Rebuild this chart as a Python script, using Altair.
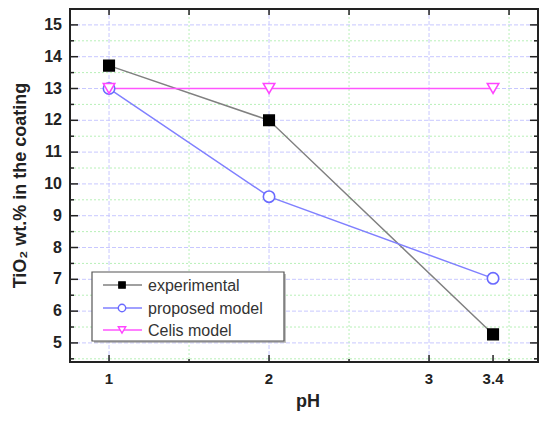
import altair as alt
import pandas as pd

# ---- data ----
ph = [1, 2, 3.4]
experimental = [13.72, 12.0, 5.27]
proposed = [13.0, 9.6, 7.03]
celis = [13.0, 13.0, 13.0]
series_names = ["experimental", "proposed model", "Celis model"]

x_labels = [1, 2, 3, 3.4]
x_label_text = ["1", "2", "3", "3.4"]
y_major_ticks = [5, 6, 7, 8, 9, 10, 11, 12, 13, 14, 15]
y_minor_ticks = [4.5, 5.5, 6.5, 7.5, 8.5, 9.5, 10.5, 11.5, 12.5, 13.5, 14.5, 15.5]
x_grid_major = [1, 2, 3]
x_grid_minor = [1.5, 2.5, 3.5]
x_top_ticks = [1, 1.5, 2, 2.5, 3, 3.5]
x_bottom_major = [1, 2, 3, 3.4]
x_bottom_minor = [1.5, 2.5, 3.5]
x_title = "pH"
y_title = "TiO₂ wt.% in the coating"

W, H = 468, 353
FONT = "Liberation Sans"
TXT = "#222222"

xs = alt.Scale(domain=[0.756, 3.681], nice=False, zero=False)
ys = alt.Scale(domain=[4.4, 15.5], nice=False, zero=False)

GRID_BLUE = "#c8c8ff"
GRID_GREEN = "#b8f0b8"


def hrule(vals, color, dash, width=1):
    return alt.Chart(pd.DataFrame({"v": vals})).mark_rule(
        color=color, strokeDash=dash, strokeWidth=width
    ).encode(y=alt.Y("v:Q", scale=ys, axis=None), x=alt.value(0), x2=alt.value(W))


def vrule(vals, color, dash, width=1):
    return alt.Chart(pd.DataFrame({"v": vals})).mark_rule(
        color=color, strokeDash=dash, strokeWidth=width
    ).encode(x=alt.X("v:Q", scale=xs, axis=None), y=alt.value(0), y2=alt.value(H))


def ytick(vals, x0, x1):
    return alt.Chart(pd.DataFrame({"v": vals})).mark_rule(color=TXT, strokeWidth=1.5).encode(
        y=alt.Y("v:Q", scale=ys, axis=None), x=alt.value(x0), x2=alt.value(x1))


def xtick(vals, y0, y1):
    return alt.Chart(pd.DataFrame({"v": vals})).mark_rule(color=TXT, strokeWidth=1.5).encode(
        x=alt.X("v:Q", scale=xs, axis=None), y=alt.value(y0), y2=alt.value(y1))


grids = [
    hrule(y_minor_ticks, GRID_GREEN, [2, 2]),
    hrule(y_major_ticks, GRID_BLUE, [4, 2]),
    vrule(x_grid_minor, GRID_GREEN, [2, 2]),
    vrule(x_grid_major, GRID_BLUE, [4, 2]),
]

ticks = [
    ytick(y_major_ticks, 0, 8), ytick(y_minor_ticks, 0, 4),
    ytick(y_major_ticks, W - 8, W), ytick(y_minor_ticks, W - 4, W),
    xtick(x_top_ticks, 0, 6),
    xtick(x_bottom_major, H - 7, H), xtick(x_bottom_minor, H - 3, H),
]

# tick labels and titles as text
ylab = alt.Chart(pd.DataFrame({"v": y_major_ticks, "t": [str(v) for v in y_major_ticks]})).mark_text(
    align="right", baseline="middle", font=FONT, fontSize=16, fontWeight="bold", color=TXT
).encode(y=alt.Y("v:Q", scale=ys, axis=None), x=alt.value(-8), text="t:N")
xlab = alt.Chart(pd.DataFrame({"v": x_labels, "t": x_label_text})).mark_text(
    align="center", baseline="top", font=FONT, fontSize=15, fontWeight="bold", color=TXT
).encode(x=alt.X("v:Q", scale=xs, axis=None), y=alt.value(H + 10), text="t:N")
one = pd.DataFrame({"k": [0]})
xtitle = alt.Chart(pd.DataFrame({"t": [x_title]})).mark_text(
    align="center", baseline="middle", font=FONT, fontSize=18, fontWeight="bold", color=TXT
).encode(x=alt.value(238), y=alt.value(H + 40), text="t:N")
ytitle = alt.Chart(pd.DataFrame({"t": [y_title]})).mark_text(
    align="center", baseline="middle", angle=270, font=FONT, fontSize=18, fontWeight="bold", color=TXT
).encode(x=alt.value(-49), y=alt.value(H / 2), text="t:N")

df = pd.DataFrame({
    "pH": ph * 3,
    "val": experimental + proposed + celis,
    "series": [series_names[0]] * 3 + [series_names[1]] * 3 + [series_names[2]] * 3,
})

line_colors = ["#808080", "#8080ff", "#ff55ff"]
marker_stroke = ["#000000", "#6a6aff", "#ff44ff"]
marker_fill = ["#000000", "#ffffff", "#ffffff"]
shapes = ["square", "circle", "triangle-down"]
sizes = [110, 130, 130]

data_layers = []
for i, name in enumerate(series_names):
    sub = df[df.series == name]
    data_layers.append(alt.Chart(sub).mark_line(color=line_colors[i], strokeWidth=1.5).encode(
        x=alt.X("pH:Q", scale=xs, axis=None), y=alt.Y("val:Q", scale=ys, axis=None)))
for i, name in enumerate(series_names):
    sub = df[df.series == name]
    data_layers.append(alt.Chart(sub).mark_point(
        shape=shapes[i], filled=True, fill=marker_fill[i], stroke=marker_stroke[i],
        strokeWidth=1.6, size=sizes[i], opacity=1).encode(
        x=alt.X("pH:Q", scale=xs, axis=None), y=alt.Y("val:Q", scale=ys, axis=None)))

# legend (hand drawn box)
LX0, LX1, LY0, LY1 = 22, 214, 263, 332
legend = [
    alt.Chart(one).mark_rect(fill="#9a9a9a", opacity=0.6).encode(
        x=alt.value(LX0 + 2), x2=alt.value(LX1 + 2), y=alt.value(LY0 + 2), y2=alt.value(LY1 + 2)),
    alt.Chart(one).mark_rect(fill="white", stroke="#555555", strokeWidth=1.2).encode(
        x=alt.value(LX0), x2=alt.value(LX1), y=alt.value(LY0), y2=alt.value(LY1)),
]
row_y = [276, 299, 321]
leg_sizes = [40, 55, 55]
for i, name in enumerate(series_names):
    d = pd.DataFrame({"label": [name]})
    legend.append(alt.Chart(d).mark_rule(color=line_colors[i], strokeWidth=1.5).encode(
        x=alt.value(33), x2=alt.value(72), y=alt.value(row_y[i])))
    legend.append(alt.Chart(d).mark_point(
        shape=shapes[i], filled=True, fill=marker_fill[i], stroke=marker_stroke[i],
        strokeWidth=1.4, size=leg_sizes[i], opacity=1).encode(
        x=alt.value(52), y=alt.value(row_y[i])))
    legend.append(alt.Chart(d).mark_text(
        align="left", baseline="middle", font=FONT, fontSize=16, color="#333").encode(
        x=alt.value(78), y=alt.value(row_y[i] + 1), text="label:N"))

frame = alt.Chart(one).mark_rect(fillOpacity=0, stroke=TXT, strokeWidth=2).encode(
    x=alt.value(0), x2=alt.value(W), y=alt.value(0), y2=alt.value(H))

chart = alt.layer(*grids, *ticks, *data_layers, *legend, frame, ylab, xlab, xtitle, ytitle).properties(
    width=W, height=H,
    autosize=alt.AutoSizeParams(type="none"),
    padding={"left": 62, "top": 1, "right": 1, "bottom": 51},
).configure_view(stroke=None).configure(background="white")

chart.save("out.html", embed_options={"renderer": "svg", "actions": False})
